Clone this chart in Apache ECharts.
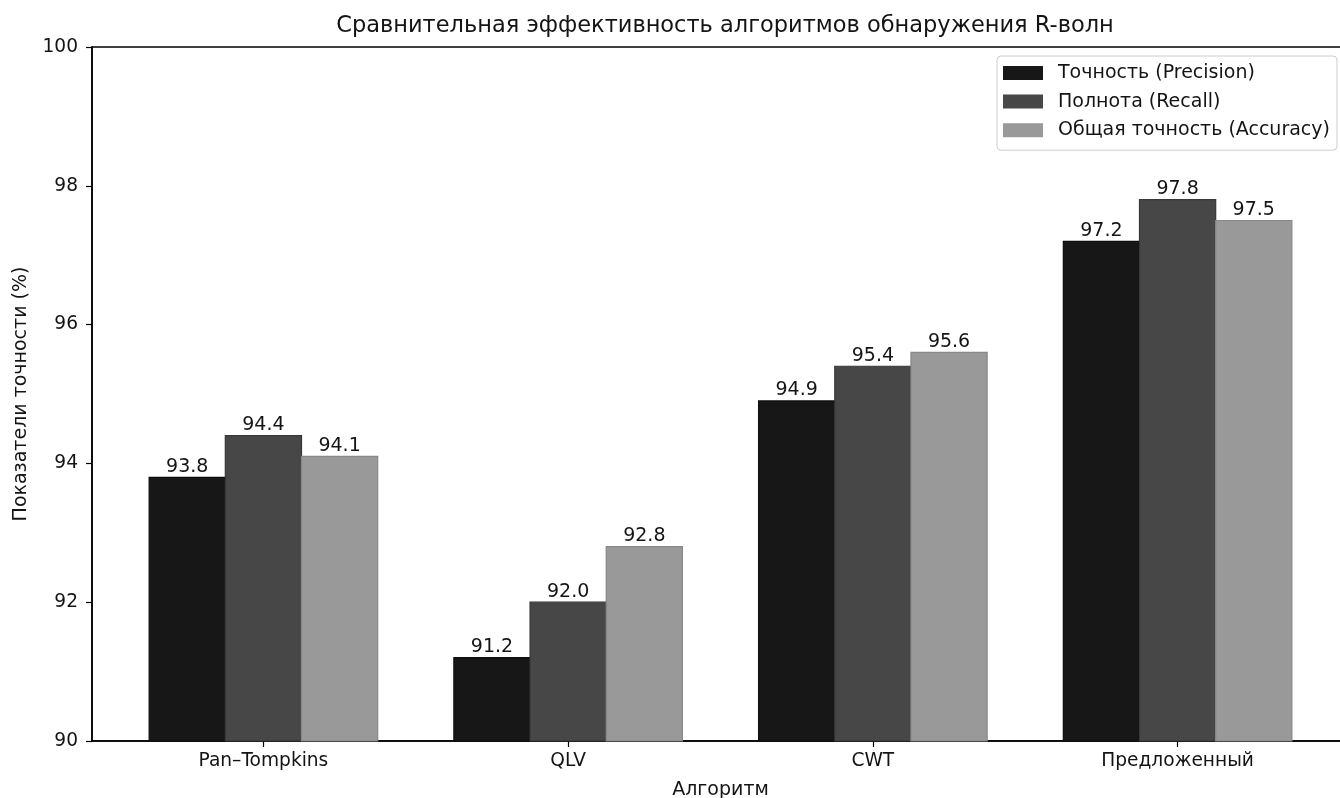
<!DOCTYPE html>
<html>
<head>
<meta charset="utf-8">
<script src="https://cdn.jsdelivr.net/npm/echarts@6/dist/echarts.min.js"></script>
<style>
  html, body { margin: 0; padding: 0; background: #fff; }
  #chart { width: 1340px; height: 798px; }
</style>
</head>
<body>
<div id="chart"></div>
<script>
// Algorithms compared and their scores (%)
const categories = ['Pan–Tompkins', 'QLV', 'CWT', 'Предложенный'];
const precision = [93.8, 91.2, 94.9, 97.2];
const recall = [94.4, 92.0, 95.4, 97.8];
const accuracy = [94.1, 92.8, 95.6, 97.5];
const seriesNames = ['Точность (Precision)', 'Полнота (Recall)', 'Общая точность (Accuracy)'];
const yTicks = [90, 92, 94, 96, 98, 100];

const FONT = '"DejaVu Sans", sans-serif';
const TEXT = '#141414';
const fills = ['#171717', '#474747', '#999999'];
const edges = ['#0e0e0e', '#383838', '#888888'];
const BAR_W = 0.25;   // bar width in category units
const BASE = 90;      // bars start from the axis floor

const chart = echarts.init(document.getElementById('chart'), null, { renderer: 'canvas' });

function makeRender(si) {
  return function (params, api) {
    const idx = api.value(0);
    const val = api.value(1);
    const offset = (si - 1) * BAR_W;
    const p0 = api.coord([idx + offset - BAR_W / 2, val]);
    const p1 = api.coord([idx + offset + BAR_W / 2, BASE]);
    return {
      type: 'group',
      children: [
        {
          type: 'rect',
          shape: { x: p0[0], y: p0[1], width: p1[0] - p0[0], height: p1[1] - p0[1] },
          style: { fill: fills[si], stroke: edges[si], lineWidth: 1.2 }
        },
        {
          type: 'text',
          style: {
            x: (p0[0] + p1[0]) / 2,
            y: p0[1] - 1,
            text: val.toFixed(1),
            fill: TEXT,
            font: '19px ' + FONT,
            align: 'center',
            verticalAlign: 'bottom'
          }
        }
      ]
    };
  };
}

const groups = [precision, recall, accuracy];
const series = groups.map((arr, si) => ({
  name: seriesNames[si],
  type: 'custom',
  renderItem: makeRender(si),
  itemStyle: { color: fills[si], borderColor: edges[si] },
  encode: { x: 0, y: 1 },
  data: arr.map((v, i) => [i, v]),
  z: 2
}));

chart.setOption({
  animation: false,
  backgroundColor: '#fff',
  title: {
    text: 'Сравнительная эффективность алгоритмов обнаружения R-волн',
    left: 720,
    textAlign: 'center',
    top: 10,
    textStyle: { fontFamily: FONT, fontSize: 22.5, fontWeight: 'normal', color: TEXT }
  },
  legend: {
    orient: 'vertical',
    left: 997,
    top: 56,
    padding: [7, 7, 10, 6],
    itemGap: 8.6,
    itemWidth: 40,
    itemHeight: 14,
    icon: 'rect',
    backgroundColor: '#fff',
    borderColor: '#cccccc',
    borderWidth: 1,
    borderRadius: 4,
    textStyle: { fontFamily: FONT, fontSize: 19, color: TEXT, lineHeight: 20, padding: [0, 0, 0, 10] },
    data: seriesNames
  },
  grid: {
    left: 92, width: 1257, top: 47, bottom: 57,
    containLabel: false,
    outerBoundsMode: 'none',
    show: true, borderColor: '#000', borderWidth: 1.5, backgroundColor: 'transparent'
  },
  xAxis: {
    type: 'value',
    min: -0.5625,
    max: 3.5625,
    name: 'Алгоритм',
    nameLocation: 'middle',
    nameGap: 40,
    nameTextStyle: { fontFamily: FONT, fontSize: 19, color: TEXT },
    axisLine: { show: true, onZero: false, lineStyle: { color: '#000', width: 1.5 } },
    axisTick: { show: true, length: 6, customValues: [0, 1, 2, 3], lineStyle: { color: '#000', width: 1.2 } },
    axisLabel: {
      customValues: [0, 1, 2, 3],
      formatter: v => categories[Math.round(v)],
      fontFamily: FONT, fontSize: 18.6, color: TEXT, margin: 11
    },
    splitLine: { show: false }
  },
  yAxis: {
    type: 'value',
    min: yTicks[0],
    max: yTicks[yTicks.length - 1],
    interval: 2,
    name: 'Показатели точности (%)',
    nameLocation: 'middle',
    nameGap: 61,
    nameRotate: 90,
    nameTextStyle: { fontFamily: FONT, fontSize: 19, color: TEXT },
    axisLine: { show: true, onZero: false, lineStyle: { color: '#000', width: 1.5 } },
    axisTick: { show: true, length: 6, lineStyle: { color: '#000', width: 1.2 } },
    axisLabel: { fontFamily: FONT, fontSize: 18.6, color: TEXT, margin: 14 },
    splitLine: { show: false }
  },
  series: series
});
</script>
</body>
</html>
